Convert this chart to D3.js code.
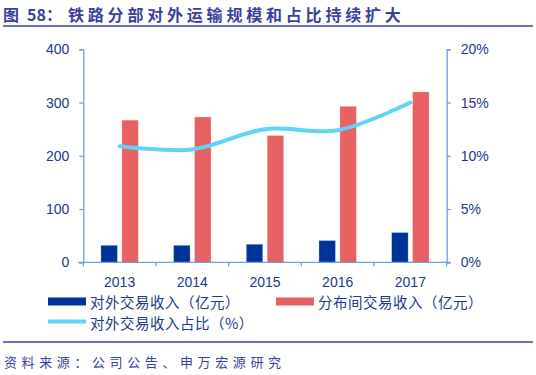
<!DOCTYPE html>
<html>
<head>
<meta charset="utf-8">
<script src="https://cdn.jsdelivr.net/npm/d3@7"></script>
<style>
  body { margin: 0; background: #fff; }
  svg { display: block; }
</style>
</head>
<body>
<svg id="chart" width="536" height="375"></svg>
<script>
// data
var years = ['2013', '2014', '2015', '2016', '2017'];
var outerRevenue = [32, 32, 34, 41, 56];        // 对外交易收入（亿元）
var innerRevenue = [267, 273, 238, 293, 320];   // 分布间交易收入（亿元）
var outerShare = [10.9, 10.6, 12.5, 12.4, 15.0]; // 对外交易收入占比（%）
var leftTicks = [0, 100, 200, 300, 400];
var rightTicks = [0, 5, 10, 15, 20];

var seriesNames = ['对外交易收入（亿元）', '分布间交易收入（亿元）', '对外交易收入占比（%）'];
var colors = ['#003399', '#e86162', '#5fd3f8'];
var navy = '#1b3a8c';
var axisColor = '#6aa1dc';
var titleColor = '#3c3f9c';

var svg = d3.select('#chart');
var margin = { left: 83.3, right: 446.7, top: 49.3, bottom: 262.3 };

// title
var title = svg.append('text').attr('y', 21)
  .attr('font-family', 'Noto Sans CJK SC').attr('font-weight', 'bold')
  .attr('font-size', 16).attr('fill', titleColor);
title.append('tspan').attr('x', 3).text('图');
title.append('tspan').attr('x', 27).text('58：');
title.append('tspan').attr('x', 68).attr('letter-spacing', 3.8).text('铁路分部对外运输规模和占比持续扩大');
svg.append('line').attr('x1', 3).attr('x2', 533).attr('y1', 26).attr('y2', 26)
  .attr('stroke', titleColor).attr('stroke-width', 1.5);

// scales
var x0 = d3.scaleBand().domain(years).range([margin.left, margin.right]);
var x1 = d3.scaleBand().domain([0, 1]).range([0, x0.bandwidth()]).paddingInner(0.21).paddingOuter(0.84);
var yL = d3.scaleLinear().domain([0, 400]).range([margin.bottom, margin.top]);
var yR = d3.scaleLinear().domain([0, 20]).range([margin.bottom, margin.top]);

// bars
var bars = svg.append('g');
[outerRevenue, innerRevenue].forEach(function (vals, s) {
  bars.selectAll('.bar' + s).data(vals).join('rect')
    .attr('x', function (d, i) { return x0(years[i]) + x1(s); })
    .attr('y', function (d) { return yL(d); })
    .attr('width', x1.bandwidth())
    .attr('height', function (d) { return yL(0) - yL(d); })
    .attr('fill', colors[s])
    .attr('stroke', '#fff').attr('stroke-opacity', 0.5).attr('stroke-width', 0.6);
});

// axes
function styleAxis(g) {
  g.select('.domain').attr('stroke', axisColor).attr('stroke-width', 1.3);
  g.selectAll('.tick line').attr('stroke', axisColor).attr('stroke-width', 1.3);
  g.selectAll('text').attr('fill', navy).attr('font-family', 'Liberation Sans').attr('font-size', 14);
}

svg.append('g').attr('transform', 'translate(' + margin.left + ',0)')
  .call(d3.axisLeft(yL).tickValues(leftTicks).tickSizeOuter(0).tickSize(4).tickPadding(10))
  .call(styleAxis);

svg.append('g').attr('transform', 'translate(' + margin.right + ',0)')
  .call(d3.axisRight(yR).tickValues(rightTicks).tickFormat(function (d) { return d + '%'; })
    .tickSizeOuter(0).tickSize(4).tickPadding(10))
  .call(styleAxis);

var xAxis = svg.append('g').attr('transform', 'translate(0,' + margin.bottom + ')');
xAxis.append('line').attr('x1', margin.left - 5).attr('x2', margin.right + 3)
  .attr('stroke', axisColor).attr('stroke-width', 1.3);
xAxis.selectAll('.xtick').data(years.concat(['end'])).join('line')
  .attr('x1', function (d, i) { return margin.left + i * x0.step(); })
  .attr('x2', function (d, i) { return margin.left + i * x0.step(); })
  .attr('y1', 0).attr('y2', 4).attr('stroke', axisColor).attr('stroke-width', 1.3);
xAxis.selectAll('.xlabel').data(years).join('text')
  .attr('x', function (d) { return x0(d) + x0.bandwidth() / 2; })
  .attr('y', 25).attr('text-anchor', 'middle')
  .attr('fill', navy).attr('font-family', 'Liberation Sans').attr('font-size', 14)
  .text(function (d) { return d; });

// share line
var line = d3.line()
  .x(function (d, i) { return x0(years[i]) + x0.bandwidth() / 2; })
  .y(function (d) { return yR(d); })
  .curve(d3.curveCatmullRom.alpha(0.5));
svg.append('path').datum(outerShare).attr('d', line)
  .attr('fill', 'none').attr('stroke', colors[2]).attr('stroke-width', 4).attr('stroke-linecap', 'round');

// legend
var legend = svg.append('g').attr('font-family', 'Noto Sans CJK SC').attr('font-size', 14.5).attr('fill', navy);
var legendItems = [
  { x: 48, y: 301.5, type: 'rect' },
  { x: 276, y: 301.5, type: 'rect' },
  { x: 48, y: 322.5, type: 'line' }
];
legendItems.forEach(function (it, i) {
  if (it.type === 'rect') {
    legend.append('rect').attr('x', it.x).attr('y', it.y - 4).attr('width', 38).attr('height', 8).attr('fill', colors[i]);
  } else {
    legend.append('line').attr('x1', it.x).attr('x2', it.x + 38).attr('y1', it.y - 1).attr('y2', it.y - 1)
      .attr('stroke', colors[i]).attr('stroke-width', 4);
  }
  legend.append('text').attr('x', it.x + 42).attr('y', it.y + 1).attr('dy', '0.35em')
    .attr('letter-spacing', 0.5).text(seriesNames[i]);
});

// footer
svg.append('line').attr('x1', 3).attr('x2', 533).attr('y1', 342).attr('y2', 342)
  .attr('stroke', titleColor).attr('stroke-width', 1.5);
svg.append('text').attr('x', 4).attr('y', 367)
  .attr('font-family', 'Noto Sans CJK SC').attr('font-size', 13).attr('letter-spacing', 4.6).attr('fill', titleColor)
  .text('资料来源：公司公告、申万宏源研究');
</script>
</body>
</html>
